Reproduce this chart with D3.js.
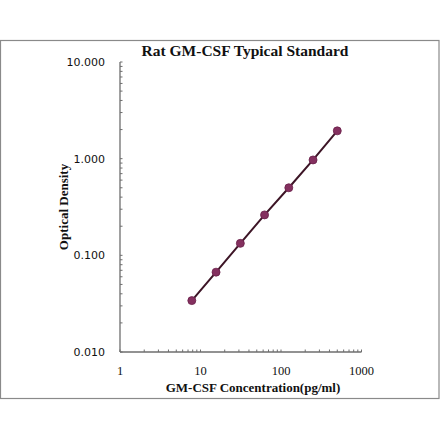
<!DOCTYPE html>
<html>
<head>
<meta charset="utf-8">
<script src="https://cdn.jsdelivr.net/npm/d3@7"></script>
<style>
  body { margin: 0; background: #fff; }
</style>
</head>
<body>
<div id="chart"></div>
<script>
// standard curve points
const concentration = [7.8, 15.6, 31.25, 62.5, 125, 250, 500];
const density = [0.034, 0.067, 0.133, 0.262, 0.5, 0.97, 1.94];
const xTicks = [1, 10, 100, 1000];
const yTicks = [0.01, 0.1, 1, 10];
const yTickLabels = ["0.010", "0.100", "1.000", "10.000"];

function drawChart() {
  const dim = { width: 440, height: 441 };
  const svg = d3
    .select("#chart")
    .append("svg")
    .attr("width", dim.width)
    .attr("height", dim.height);

  // outer frame
  svg
    .append("rect")
    .attr("x", 0.5)
    .attr("y", 40.5)
    .attr("width", 438.5)
    .attr("height", 358)
    .style("fill", "none")
    .style("stroke", "#8a8a8a")
    .style("stroke-width", 1.2);

  var x = d3.scaleLog().domain([1, 1000]).range([120, 361.5]);
  var y = d3.scaleLog().domain([0.01, 10]).range([352, 62]);

  // minor ticks: 2..9 in every decade, pointing inwards
  var xMinor = [];
  var yMinor = [];
  for (var d = 0; d < 3; d++) {
    for (var k = 2; k < 10; k++) {
      xMinor.push(k * Math.pow(10, d));
      yMinor.push(k * Math.pow(10, d - 2));
    }
  }

  var axisColor = "#6e6e6e";
  var gx = svg.append("g").attr("transform", "translate(0,352)");
  gx.append("line")
    .attr("x1", x(1))
    .attr("x2", x(1000))
    .style("stroke", axisColor)
    .style("stroke-width", 1.3);
  gx.selectAll(".minor")
    .data(xMinor.concat(xTicks))
    .enter()
    .append("line")
    .attr("x1", (v) => x(v))
    .attr("x2", (v) => x(v))
    .attr("y1", 0)
    .attr("y2", -2.5)
    .style("stroke", axisColor)
    .style("stroke-width", 1);
  gx.selectAll("text")
    .data(xTicks)
    .enter()
    .append("text")
    .attr("x", (v) => x(v))
    .attr("y", 23)
    .attr("text-anchor", "middle")
    .text((v) => v)
    .style("font-family", "'Liberation Serif', 'Times New Roman', serif")
    .style("font-size", "12.5px")
    .style("fill", "#111");

  var gy = svg.append("g").attr("transform", "translate(120,0)");
  gy.append("line")
    .attr("y1", y(0.01))
    .attr("y2", y(10))
    .style("stroke", axisColor)
    .style("stroke-width", 1.3);
  gy.selectAll(".minor")
    .data(yMinor.concat(yTicks))
    .enter()
    .append("line")
    .attr("y1", (v) => y(v))
    .attr("y2", (v) => y(v))
    .attr("x1", 0)
    .attr("x2", 2.5)
    .style("stroke", axisColor)
    .style("stroke-width", 1);
  gy.selectAll("text")
    .data(yTicks)
    .enter()
    .append("text")
    .attr("x", -15)
    .attr("y", (v) => y(v) + 4)
    .attr("text-anchor", "end")
    .text((v, i) => yTickLabels[i])
    .style("font-family", "'DejaVu Sans', Verdana, sans-serif")
    .style("font-size", "11px")
    .style("fill", "#111");

  // the curve
  var pts = concentration.map((c, i) => [c, density[i]]);
  svg
    .append("path")
    .datum(pts)
    .attr(
      "d",
      d3
        .line()
        .x((p) => x(p[0]))
        .y((p) => y(p[1]))
    )
    .style("fill", "none")
    .style("stroke", "#3d1526")
    .style("stroke-width", 2);
  svg
    .selectAll("circle")
    .data(pts)
    .enter()
    .append("circle")
    .attr("cx", (p) => x(p[0]))
    .attr("cy", (p) => y(p[1]))
    .attr("r", 4)
    .style("fill", "#84305f")
    .style("stroke", "#6a2049")
    .style("stroke-width", 0.8);

  var serif = "'Liberation Serif', 'Times New Roman', serif";
  svg
    .append("text")
    .attr("text-anchor", "middle")
    .attr("x", 245)
    .attr("y", 56)
    .text("Rat GM-CSF Typical Standard")
    .style("font-family", serif)
    .style("font-weight", "bold")
    .style("font-size", "15.5px")
    .style("fill", "#111");
  svg
    .append("text")
    .attr("text-anchor", "middle")
    .attr("x", 253)
    .attr("y", 392)
    .text("GM-CSF Concentration(pg/ml)")
    .style("font-family", serif)
    .style("font-weight", "bold")
    .style("font-size", "13px")
    .style("fill", "#111");
  svg
    .append("text")
    .attr("text-anchor", "middle")
    .attr("transform", "translate(68,207) rotate(-90)")
    .text("Optical Density")
    .style("font-family", serif)
    .style("font-weight", "bold")
    .style("font-size", "13px")
    .style("fill", "#111");
}

drawChart();
</script>
</body>
</html>
